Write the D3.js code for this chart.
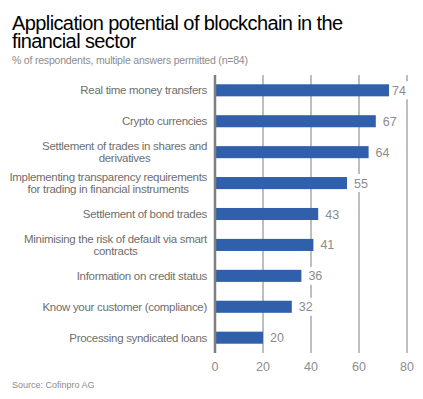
<!DOCTYPE html>
<html>
<head>
<meta charset="utf-8">
<script src="https://cdn.jsdelivr.net/npm/d3@7"></script>
<style>
  body { margin: 0; background: #fff; }
  svg { font-family: "Liberation Sans", Arial, sans-serif; }
</style>
</head>
<body>
<svg id="chart" width="423" height="399"></svg>
<script>
// categories, top to bottom ("\n" marks a line break in the label)
const categories = [
    "Real time money transfers",
    "Crypto currencies",
    "Settlement of trades in shares and\nderivatives",
    "Implementing transparency requirements\nfor trading in financial instruments",
    "Settlement of bond trades",
    "Minimising the risk of default via smart\ncontracts",
    "Information on credit status",
    "Know your customer (compliance)",
    "Processing syndicated loans"
];
const values = [74, 67, 64, 55, 43, 41, 36, 32, 20];
const xTicks = [0, 20, 40, 60, 80];

const title = ["Application potential of blockchain in the", "financial sector"];
const subtitle = "% of respondents, multiple answers permitted (n=84)";
const source = "Source: Cofinpro AG";

const svg = d3.select("#chart");
const plot = { left: 215, right: 407, top: 75, bottom: 353 };

const x = d3.scaleLinear().domain([0, 80]).range([plot.left, plot.right]);
const y = d3.scaleBand().domain(categories)
    .range([plot.top, plot.bottom])
    .paddingInner(0.61)
    .paddingOuter(0.3);

// title block
svg.append("g").selectAll("text").data(title).join("text")
    .attr("x", 12)
    .attr("y", (d, i) => 30 + i * 18)
    .attr("font-size", 20)
    .attr("letter-spacing", -0.6)
    .attr("fill", "#000")
    .text(d => d);

svg.append("text")
    .attr("x", 12).attr("y", 64)
    .attr("font-size", 10.5)
    .attr("letter-spacing", -0.2)
    .attr("fill", "#8c8c8c")
    .text(subtitle);

// grid
svg.append("g").selectAll("line").data(xTicks.slice(1)).join("line")
    .attr("x1", d => x(d)).attr("x2", d => x(d))
    .attr("y1", plot.top).attr("y2", plot.bottom)
    .attr("stroke", "#7f7f7f")
    .attr("stroke-width", 1);

// bars
svg.append("g").selectAll("rect").data(values).join("rect")
    .attr("x", x(0))
    .attr("y", (d, i) => y(categories[i]))
    .attr("width", d => x(d) - x(0))
    .attr("height", y.bandwidth())
    .attr("fill", "#3060ab");

// zero axis
svg.append("line")
    .attr("x1", x(0)).attr("x2", x(0))
    .attr("y1", plot.top).attr("y2", plot.bottom)
    .attr("stroke", "#7f7f7f")
    .attr("stroke-width", 2.5);

// value labels with white backing, kept inside the plot on the right
const vl = svg.append("g").selectAll("g").data(values).join("g")
    .attr("transform", (d, i) => `translate(${Math.min(x(d) + 7, plot.right - 15)},${y(categories[i]) + y.bandwidth() / 2})`);
vl.append("rect")
    .attr("x", -3).attr("y", -9)
    .attr("width", 20).attr("height", 18)
    .attr("fill", "#fff");
vl.append("text")
    .attr("dy", "0.36em")
    .attr("font-size", 12.5)
    .attr("fill", "#8c8c8c")
    .text(d => d);

// category labels: block right-aligned, lines centred within it
const labelRight = 207;
const cl = svg.append("g").selectAll("g").data(categories).join("g")
    .attr("transform", d => `translate(0,${y(d) + y.bandwidth() / 2})`);
cl.each(function (d) {
    const g = d3.select(this);
    const lines = d.split("\n");
    const texts = g.selectAll("text").data(lines).join("text")
        .attr("font-size", 11.5)
        .attr("letter-spacing", -0.3)
        .attr("fill", "#6e6e6e")
        .attr("text-anchor", "middle")
        .attr("dy", (l, i) => `${(i - (lines.length - 1) / 2) * 1.05 + 0.35}em`)
        .text(l => l);
    const w = d3.max(texts.nodes(), n => n.getComputedTextLength());
    texts.attr("x", labelRight - w / 2);
});

// x tick labels
svg.append("g").selectAll("text").data(xTicks).join("text")
    .attr("x", d => x(d))
    .attr("y", 371)
    .attr("text-anchor", "middle")
    .attr("font-size", 12.5)
    .attr("fill", "#8c8c8c")
    .text(d => d);

svg.append("text")
    .attr("x", 12).attr("y", 388)
    .attr("font-size", 9)
    .attr("fill", "#8c8c8c")
    .text(source);
</script>
</body>
</html>
